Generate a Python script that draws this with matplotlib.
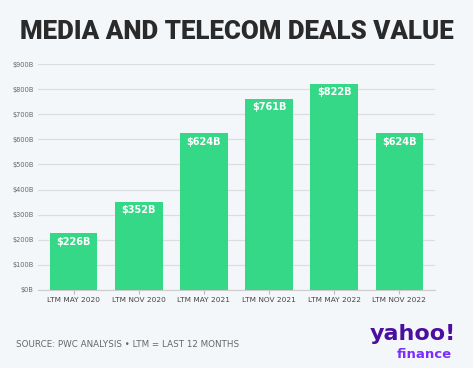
import numpy as np
import matplotlib.pyplot as plt

periods = ["LTM MAY 2020", "LTM NOV 2020", "LTM MAY 2021",
           "LTM NOV 2021", "LTM MAY 2022", "LTM NOV 2022"]
values = [226, 352, 624, 761, 822, 624]
labels = ["$226B", "$352B", "$624B", "$761B", "$822B", "$624B"]
yticks = [0, 100, 200, 300, 400, 500, 600, 700, 800, 900]
ytick_labels = ["$%dB" % v for v in yticks]

bg = "#f4f7fa"
green = "#35d886"

fig = plt.figure(figsize=(4.73, 3.68), dpi=100, facecolor=bg)
ax = fig.add_axes([0.080, 0.212, 0.840, 0.614], facecolor=bg)

x = np.arange(len(values))
bars = ax.bar(x, values, width=0.73, color=green, zorder=3)

for b, lab in zip(bars, labels):
    ax.text(b.get_x() + b.get_width() / 2, b.get_height() - 14, lab,
            ha="center", va="top", color="white", fontsize=7.8,
            fontweight="bold", fontstretch="condensed", family="DejaVu Sans",
            zorder=4)

ax.set_ylim(0, 900)
ax.set_xlim(-0.55, 5.55)
ax.set_yticks(yticks)
ax.set_yticklabels(ytick_labels, fontsize=4.8, color="#666666")
ax.set_xticks(x)
ax.set_xticklabels(periods, fontsize=5.3, color="#444444")
ax.grid(axis="y", color="#dddddd", linewidth=0.9, zorder=0)
ax.tick_params(axis="y", length=0, pad=3)
ax.tick_params(axis="x", length=3, color="#bbbbbb", pad=2)
for s in ["top", "right", "left"]:
    ax.spines[s].set_visible(False)
ax.spines["bottom"].set_color("#cccccc")

fig.text(0.5, 0.914, "MEDIA AND TELECOM DEALS VALUE", ha="center", va="center",
         fontsize=18.6, fontweight="black", color="#2a2a2a",
         family=["Roboto", "DejaVu Sans"])

fig.text(0.034, 0.065, "SOURCE: PWC ANALYSIS \u2022 LTM = LAST 12 MONTHS",
         ha="left", va="center", fontsize=6.3, color="#666666")

fig.text(0.965, 0.092, "yahoo!", ha="right", va="center", fontsize=16,
         fontweight="heavy", color="#4b0fa0", family="DejaVu Sans")
fig.text(0.955, 0.038, "finance", ha="right", va="center", fontsize=9.5,
         fontweight="bold", color="#7d2eff", family="DejaVu Sans")

fig.savefig("out.png", dpi=100, facecolor=bg)
